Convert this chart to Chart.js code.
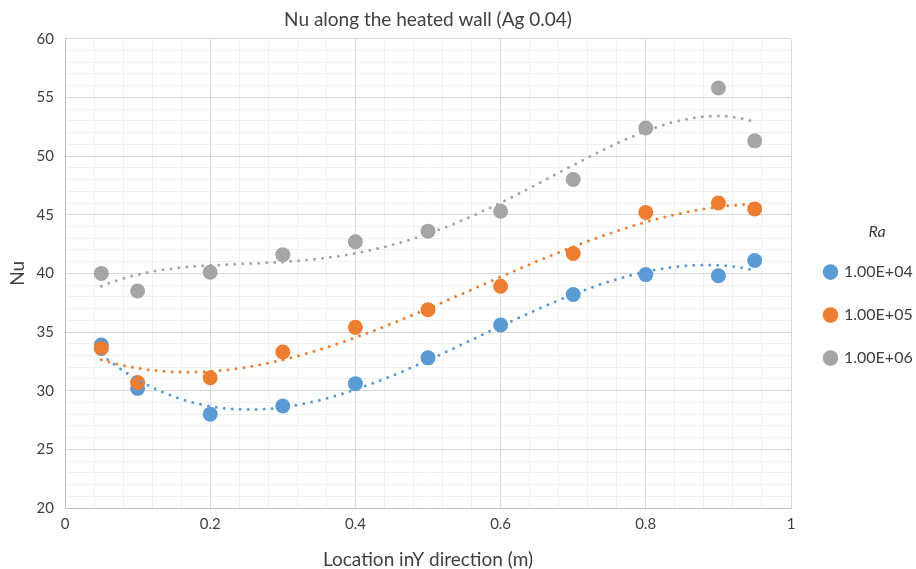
<!DOCTYPE html>
<html>
<head>
<meta charset="utf-8">
<script src="https://cdn.jsdelivr.net/npm/chart.js@4"></script>
<style>
  html, body { margin: 0; padding: 0; background: #fff; }
  #wrap { width: 916px; height: 569px; }
</style>
</head>
<body>
<div id="wrap"><canvas id="myChart" width="916" height="569"></canvas></div>
<script>
// location along the heated wall (m)
const location_y = [0.05, 0.1, 0.2, 0.3, 0.4, 0.5, 0.6, 0.7, 0.8, 0.9, 0.95];
// Nu for each Ra
const nu_ra1e4 = [33.9, 30.2, 28.0, 28.7, 30.6, 32.8, 35.6, 38.2, 39.9, 39.8, 41.1];
const nu_ra1e5 = [33.6, 30.7, 31.1, 33.3, 35.4, 36.9, 38.9, 41.7, 45.2, 46.0, 45.5];
const nu_ra1e6 = [40.0, 38.5, 40.1, 41.6, 42.7, 43.6, 45.3, 48.0, 52.4, 55.8, 51.3];
const seriesNames = ['1.00E+04', '1.00E+05', '1.00E+06'];
const seriesColors = ['#5b9bd5', '#ed7d31', '#a5a5a5'];
const trendOrder = [3, 3, 4];

const font = "Lato, 'Open Sans', sans-serif";

// least squares polynomial, like the Excel trendline
function polyfit(xs, ys, order) {
    const n = order + 1;
    const A = [];
    for (let i = 0; i < n; i++) {
        A.push(new Array(n + 1).fill(0));
    }
    for (let k = 0; k < xs.length; k++) {
        for (let i = 0; i < n; i++) {
            for (let j = 0; j < n; j++) A[i][j] += Math.pow(xs[k], i + j);
            A[i][n] += ys[k] * Math.pow(xs[k], i);
        }
    }
    for (let c = 0; c < n; c++) {
        let p = c;
        for (let r = c + 1; r < n; r++) if (Math.abs(A[r][c]) > Math.abs(A[p][c])) p = r;
        [A[c], A[p]] = [A[p], A[c]];
        for (let r = 0; r < n; r++) {
            if (r === c) continue;
            const f = A[r][c] / A[c][c];
            for (let j = c; j <= n; j++) A[r][j] -= f * A[c][j];
        }
    }
    return A.map((row, i) => row[n] / A[i][i]);
}

function trendPoints(xs, ys, order) {
    const coef = polyfit(xs, ys, order);
    const pts = [];
    const x0 = xs[0], x1 = xs[xs.length - 1];
    for (let i = 0; i <= 80; i++) {
        const x = x0 + (x1 - x0) * i / 80;
        let y = 0;
        coef.forEach((c, k) => { y += c * Math.pow(x, k); });
        pts.push({ x: x, y: y });
    }
    return pts;
}

const allSeries = [nu_ra1e4, nu_ra1e5, nu_ra1e6];

const pointSets = allSeries.map((vals, i) => ({
    label: seriesNames[i],
    data: vals.map((v, k) => ({ x: location_y[k], y: v })),
    backgroundColor: seriesColors[i],
    borderColor: seriesColors[i],
    pointRadius: 7.5,
    pointHoverRadius: 7.5,
    pointBorderWidth: 0,
    showLine: false,
    order: 3 - i
}));

const trendSets = allSeries.map((vals, i) => ({
    label: 'trend ' + seriesNames[i],
    data: trendPoints(location_y, vals, trendOrder[i]),
    borderColor: seriesColors[i],
    borderWidth: 3,
    borderDash: [0, 8],
    borderCapStyle: 'round',
    pointRadius: 0,
    showLine: true,
    fill: false,
    order: 0
}));

// legend column is 125px wide, its title sits over the item text
const legendBox = {
    id: 'legendBox',
    beforeLayout(chart) {
        const lg = chart.legend;
        if (lg && !lg._patched) {
            const fit = lg.fit;
            lg.fit = function () {
                fit.call(this);
                this.width = 125;
            };
            lg._patched = true;
        }
    },
    afterLayout(chart) {
        const lg = chart.legend;
        lg.left += 7;
        lg.width = 158;
        lg.right = lg.left + lg.width;
    }
};

const ctx = document.getElementById('myChart').getContext('2d');
new Chart(ctx, {
    type: 'scatter',
    data: { datasets: pointSets.concat(trendSets) },
    options: {
        responsive: false,
        animation: false,
        layout: { padding: 0 },
        plugins: {
            title: {
                display: true,
                text: 'Nu along the heated wall (Ag 0.04)',
                color: '#404040',
                fullSize: false,
                font: { family: font, size: 19, weight: 'normal' },
                padding: { top: 8, bottom: 8 }
            },
            legend: {
                position: 'right',
                labels: {
                    usePointStyle: true,
                    pointStyle: 'circle',
                    boxWidth: 11,
                    boxHeight: 11,
                    padding: 27,
                    color: '#404040',
                    font: { family: font, size: 16 },
                    filter: item => item.datasetIndex < 3,
                    sort: (a, b) => a.datasetIndex - b.datasetIndex
                },
                title: {
                    display: true,
                    text: 'Ra',
                    color: '#404040',
                    font: { family: font, size: 16, style: 'italic' },
                    padding: { top: 48, bottom: -6 }
                }
            },
            tooltip: { enabled: false }
        },
        scales: {
            x: {
                type: 'linear',
                min: 0,
                max: 1,
                afterFit: s => { s.height = 61; },
                ticks: {
                    stepSize: 0.04,
                    autoSkip: false,
                    maxRotation: 0,
                    padding: 7,
                    color: '#404040',
                    font: { family: font, size: 15 },
                    callback: v => (Math.round(v * 100) % 20 === 0 ? String(Math.round(v * 10) / 10) : '')
                },
                grid: {
                    drawTicks: false,
                    color: c => (Math.round(c.tick.value * 100) % 20 === 0 ? '#d9d9d9' : '#f0f0f0')
                },
                border: { color: '#bfbfbf' },
                title: {
                    display: true,
                    text: 'Location inY direction (m)',
                    color: '#404040',
                    font: { family: font, size: 19 },
                    padding: { top: 0, bottom: -2 }
                }
            },
            y: {
                min: 20,
                max: 60,
                afterFit: s => { s.width = 65; },
                ticks: {
                    stepSize: 1,
                    autoSkip: false,
                    padding: 11,
                    color: '#404040',
                    font: { family: font, size: 15 },
                    callback: v => (Math.round(v) % 5 === 0 ? String(Math.round(v)) : '')
                },
                grid: {
                    drawTicks: false,
                    color: c => (Math.round(c.tick.value) % 5 === 0 ? '#d9d9d9' : '#f0f0f0')
                },
                border: { color: '#bfbfbf' },
                title: {
                    display: true,
                    text: 'Nu',
                    color: '#404040',
                    font: { family: font, size: 19 },
                    padding: { top: 6, bottom: 0 }
                }
            }
        }
    },
    plugins: [legendBox]
});
</script>
</body>
</html>
